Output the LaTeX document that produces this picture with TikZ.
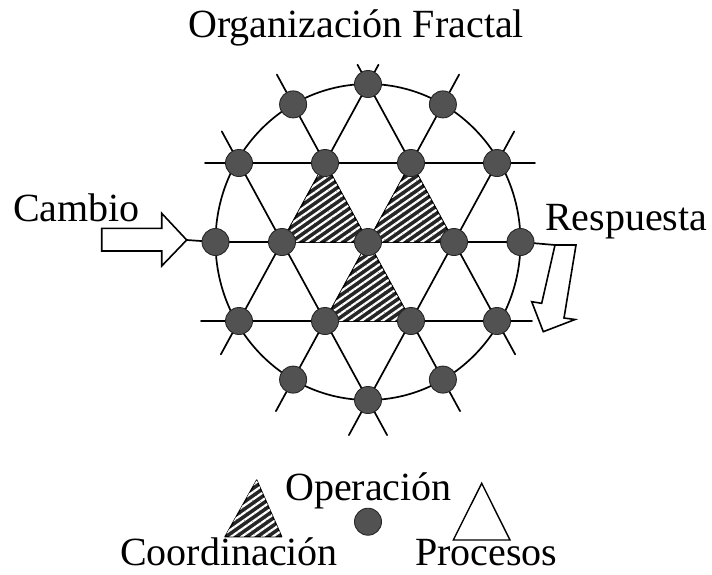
\documentclass[tikz,border=0pt]{standalone}
\usepackage{fontspec}
\setmainfont{Liberation Serif}
\usetikzlibrary{calc,patterns.meta}
\begin{document}
\begin{tikzpicture}[x=1pt,y=-1pt,
  lat/.style={line width=1.7pt,line cap=round},
  dot/.style={circle,fill=black!68,draw=black!85,line width=0.9pt,minimum size=27pt,inner sep=0pt},
  hatchtri/.style={fill=black!85,draw=black,line width=1.2pt,line join=round,
    postaction={pattern={Lines[angle=35,distance=6pt,line width=2.2pt]},pattern color=white}},
  proctri/.style={draw=black,line width=1.4pt,line join=miter,fill=white},
  lbl/.style={font=\fontsize{40}{48}\selectfont,inner sep=0pt,anchor=base west},
  barrow/.style={draw=black,line width=1.6pt,fill=white,line join=miter}]
\useasboundingbox (0,0) rectangle (712,574);
% lattice positions
\coordinate (C) at (368,242);
\coordinate (T) at (368,84);
\coordinate (UL) at (293.1,104.4);
\coordinate (UR) at (442.9,104.4);
\coordinate (R1a) at (239,163);
\coordinate (R1b) at (325,163);
\coordinate (R1c) at (411,163);
\coordinate (R1d) at (497,163);
\coordinate (R2a) at (215.5,242);
\coordinate (R2b) at (282,242);
\coordinate (R2c) at (368,242);
\coordinate (R2d) at (454,242);
\coordinate (R2e) at (520.5,242);
\coordinate (R3a) at (239,321);
\coordinate (R3b) at (325,321);
\coordinate (R3c) at (411,321);
\coordinate (R3d) at (497,321);
\coordinate (LL) at (293.1,379.6);
\coordinate (LR) at (442.9,379.6);
\coordinate (B) at (368,400);
\coordinate (cTip) at (186.7,240);
\coordinate (rTop) at (555,245);
% lattice lines
\draw[lat] ($(T)!-22pt!(R3a)$) -- ($(R3a)!-38pt!(T)$);
\draw[lat] ($(UR)!-34pt!(LL)$) -- ($(LL)!-36pt!(UR)$);
\draw[lat] ($(R1d)!-36pt!(B)$) -- ($(B)!-40pt!(R1d)$);
\draw[lat] ($(R1a)!-36pt!(B)$) -- ($(B)!-40pt!(R1a)$);
\draw[lat] ($(UL)!-34pt!(LR)$) -- ($(LR)!-36pt!(UL)$);
\draw[lat] ($(T)!-22pt!(R3d)$) -- ($(R3d)!-38pt!(T)$);
\draw[lat] ($(R1a)!-34pt!(R1d)$) -- ($(R1d)!-38pt!(R1a)$);
\draw[lat] ($(R3a)!-38pt!(R3d)$) -- ($(R3d)!-35pt!(R3a)$);
\draw[lat] (cTip) -- (R2a) -- (R2e) -- (rTop);
% circle
\draw[lat] (C) ellipse [x radius=152.5pt, y radius=158pt];
% arrows
\draw[barrow] (101.7,228.3) -- (161.7,228.3) -- (161.7,213.3) -- (cTip) -- (161.7,266) -- (161.7,251) -- (101.7,251) -- cycle;
\draw[barrow] (rTop) -- (576,245) -- (564,318) -- (575,319.5) -- (543.3,331.7) -- (531.7,301.7) -- (541.7,303.3) -- cycle;
% coordination triangles
\filldraw[hatchtri] (R1b) -- (R2b) -- (R2c) -- cycle;
\filldraw[hatchtri] (R1c) -- (R2c) -- (R2d) -- cycle;
\filldraw[hatchtri] (R2c) -- (R3b) -- (R3c) -- cycle;
% operation dots
\foreach \p in {T,UL,UR,R1a,R1b,R1c,R1d,R2a,R2b,R2c,R2d,R2e,R3a,R3b,R3c,R3d,LL,LR,B}
  \node[dot] (n\p) at (\p) {};
% labels
\node[lbl] (title) at (188,37.5) {Organización Fractal};
\node[lbl] (cambio) at (13,221.7) {Cambio};
\node[lbl] (resp) at (545,230.5) {Respuesta};
% legend
\coordinate (kA) at (256.7,480);
\coordinate (kB) at (225,536.7);
\coordinate (kC) at (281.7,536.7);
\filldraw[hatchtri] (kA) -- (kB) -- (kC) -- cycle;
\node[dot] (kDot) at (368,521.7) {};
\coordinate (pA) at (481.7,483.3);
\coordinate (pB) at (453.3,540);
\coordinate (pC) at (510,540);
\draw[proctri] (pA) -- (pB) -- (pC) -- cycle;
\node[lbl] (oper) at (285,500) {Operación};
\node[lbl] (coordl) at (120,565.5) {Coordinación};
\node[lbl] (procl) at (415,565.5) {Procesos};
\end{tikzpicture}
\end{document}
